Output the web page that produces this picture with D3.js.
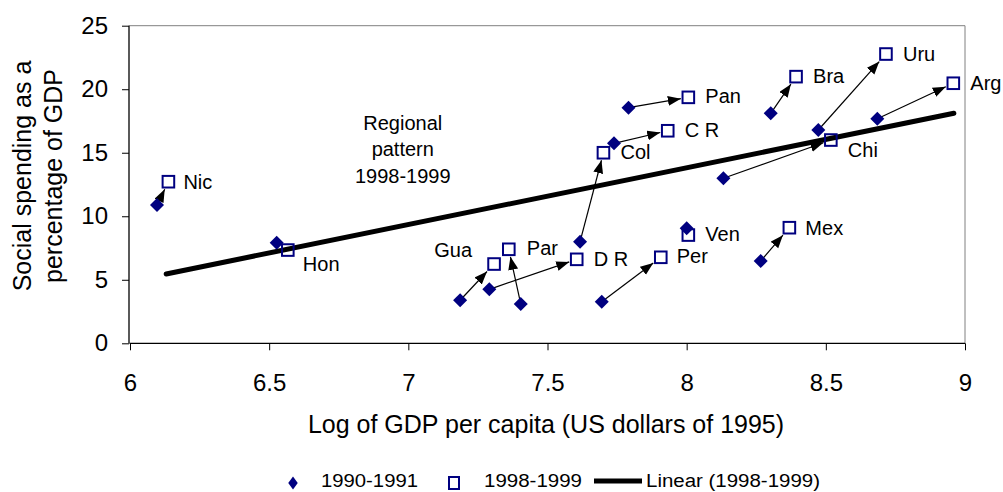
<!DOCTYPE html>
<html>
<head>
<meta charset="utf-8">
<script src="https://cdn.jsdelivr.net/npm/d3@7"></script>
<style>
  body { margin: 0; background: #fff; }
  svg { font-family: "Liberation Sans", Arial, sans-serif; }
</style>
</head>
<body>
<svg width="1003" height="492"></svg>
<script>
// values
var countries = ["Nic", "Hon", "Gua", "Par", "D R", "Col", "C R", "Pan", "Per", "Ven", "Mex", "Chi", "Bra", "Uru", "Arg"];
var gdp9091   = [6.097, 6.527, 7.186, 7.404, 7.291, 7.617, 7.739, 7.791, 7.695, 8.000, 8.266, 8.132, 8.302, 8.473, 8.685];
var spend9091 = [10.89, 7.92, 3.39, 3.09, 4.25, 8.00, 15.74, 18.55, 3.27, 9.05, 6.48, 12.99, 18.10, 16.79, 17.68];
var gdp9899   = [6.138, 6.567, 7.308, 7.361, 7.605, 7.701, 7.932, 8.006, 7.907, 8.006, 8.369, 8.518, 8.393, 8.716, 8.958];
var spend9899 = [12.72, 7.34, 6.24, 7.40, 6.61, 15.00, 16.73, 19.36, 6.77, 8.52, 9.10, 16.00, 20.99, 22.77, 20.47];
var showArrow = [true, false, true, true, true, true, true, true, true, false, true, true, true, true, true];
var trendX = [6.13, 8.96],
    trendY = [5.46, 18.11];
var xTicks = [6, 6.5, 7, 7.5, 8, 8.5, 9],
    yTicks = [0, 5, 10, 15, 20, 25];
var legendLabels = ["1990-1991", "1998-1999", "Linear (1998-1999)"];

// label placement next to each 1998-1999 square (px offsets)
var labelPos = {
    "Nic": [15, 0], "Hon": [15, 14], "Gua": [-22, -14, "end"], "Par": [18, -1],
    "D R": [17, 0], "Col": [17, -1], "C R": [17, -1], "Pan": [17, -1],
    "Per": [16, -1], "Ven": [17, -1], "Mex": [16, 0], "Chi": [17, 10],
    "Bra": [17, -1], "Uru": [17, 0], "Arg": [17, 0]
};

var navy = "#000080";

var svg = d3.select("svg"),
    margin = {left: 129, right: 38, top: 25.7, bottom: 148.7},
    width = svg.attr("width") - margin.left - margin.right,
    height = svg.attr("height") - margin.top - margin.bottom;

var g = svg.append("g")
    .attr("transform", `translate(${margin.left},${margin.top})`);

var xScale = d3.scaleLinear().domain([6, 9]).range([1, width]),
    yScale = d3.scaleLinear().domain([0, 25]).range([height, 0]);

// frame: gray top and right
g.append("line").attr("x1", 0).attr("x2", width).attr("y1", 0).attr("y2", 0)
    .attr("stroke", "#808080").attr("stroke-width", 1);
g.append("line").attr("x1", width).attr("x2", width).attr("y1", 0).attr("y2", height)
    .attr("stroke", "#808080").attr("stroke-width", 1);

var xAxis = g.append("g")
    .attr("transform", `translate(0,${height})`)
    .call(d3.axisBottom(xScale).tickValues(xTicks).tickSize(7).tickPadding(24)
        .tickFormat(d3.format("")));
var yAxis = g.append("g")
    .call(d3.axisLeft(yScale).tickValues(yTicks).tickSize(7).tickPadding(14));

[xAxis, yAxis].forEach(function(a) {
    a.select(".domain").attr("stroke", "#000").attr("stroke-width", 1.3);
    a.selectAll(".tick line").attr("stroke", "#000");
    a.selectAll("text").attr("font-family", "Liberation Sans, Arial, sans-serif")
        .attr("font-size", 24).attr("fill", "#000");
});
xAxis.select(".domain").attr("d", `M0.5,0H${width}`);
yAxis.select(".domain").attr("d", `M0,0V${height}`);

// axis titles
svg.append("text")
    .attr("x", 546).attr("y", 433)
    .attr("text-anchor", "middle")
    .attr("font-size", 25)
    .text("Log of GDP per capita (US dollars of 1995)");

var yTitle = svg.append("text")
    .attr("transform", "translate(0,176) rotate(-90)")
    .attr("text-anchor", "middle")
    .attr("font-size", 25);
yTitle.append("tspan").attr("x", 0).attr("y", 31).text("Social spending as a");
yTitle.append("tspan").attr("x", 0).attr("y", 62).text("percentage of GDP");

// regional pattern note
var note = g.append("text")
    .attr("text-anchor", "middle")
    .attr("font-size", 20);
["Regional", "pattern", "1998-1999"].forEach(function(t, i) {
    note.append("tspan")
        .attr("x", xScale(6.98))
        .attr("y", 130 - margin.top + i * 26.5)
        .text(t);
});

// trend line
var line = d3.line()
    .x(function(d) { return xScale(d[0]); })
    .y(function(d) { return yScale(d[1]); });
g.append("path")
    .datum(trendX.map(function(x, i) { return [x, trendY[i]]; }))
    .attr("d", line)
    .attr("fill", "none")
    .attr("stroke", "#000")
    .attr("stroke-width", 5)
    .attr("stroke-linecap", "round");

// arrowhead
svg.append("defs").append("marker")
    .attr("id", "arrow")
    .attr("markerUnits", "userSpaceOnUse")
    .attr("markerWidth", 14).attr("markerHeight", 12)
    .attr("refX", 13).attr("refY", 5)
    .attr("orient", "auto")
    .append("path")
    .attr("d", "M0,0L13,5L0,10Z")
    .attr("fill", "#000");

var data = countries.map(function(c, i) {
    return {name: c, x0: gdp9091[i], y0: spend9091[i], x1: gdp9899[i], y1: spend9899[i], arrow: showArrow[i]};
});

g.selectAll(".arrow")
    .data(data.filter(function(d) { return d.arrow; }))
    .enter().append("line")
    .attr("class", "arrow")
    .each(function(d) {
        var ax = xScale(d.x0), ay = yScale(d.y0),
            bx = xScale(d.x1), by = yScale(d.y1),
            dx = bx - ax, dy = by - ay,
            len = Math.sqrt(dx * dx + dy * dy),
            ux = dx / len, uy = dy / len,
            cut = 7.5 / Math.max(Math.abs(ux), Math.abs(uy));
        d3.select(this)
            .attr("x1", ax).attr("y1", ay)
            .attr("x2", bx - ux * cut).attr("y2", by - uy * cut);
    })
    .attr("stroke", "#000")
    .attr("stroke-width", 1.2)
    .attr("marker-end", "url(#arrow)");

var diamond = d3.symbol().type(d3.symbolDiamond2).size(125);

g.selectAll(".dot")
    .data(data)
    .enter().append("path")
    .attr("class", "dot")
    .attr("d", diamond)
    .attr("transform", function(d) { return `translate(${xScale(d.x0)},${yScale(d.y0)})`; })
    .attr("fill", navy);

g.selectAll(".sq")
    .data(data)
    .enter().append("rect")
    .attr("class", "sq")
    .attr("x", function(d) { return xScale(d.x1) - 5.8; })
    .attr("y", function(d) { return yScale(d.y1) - 5.8; })
    .attr("width", 11.6).attr("height", 11.6)
    .attr("fill", "none")
    .attr("stroke", navy)
    .attr("stroke-width", 2);

g.selectAll(".lbl")
    .data(data)
    .enter().append("text")
    .attr("class", "lbl")
    .attr("x", function(d) { return xScale(d.x1) + labelPos[d.name][0]; })
    .attr("y", function(d) { return yScale(d.y1) + labelPos[d.name][1]; })
    .attr("dy", "0.35em")
    .attr("text-anchor", function(d) { return labelPos[d.name][2] || "start"; })
    .attr("font-size", 20)
    .text(function(d) { return d.name; });

// legend
var legend = svg.append("g").attr("font-size", 18);
legend.append("path")
    .attr("d", d3.symbol().type(d3.symbolDiamond2).size(90))
    .attr("transform", "translate(293,483) scale(0.8,1.1)")
    .attr("fill", navy);
legend.append("text").attr("x", 321).attr("y", 487)
    .attr("textLength", 97).attr("lengthAdjust", "spacingAndGlyphs").text(legendLabels[0]);
legend.append("rect")
    .attr("x", 449).attr("y", 477).attr("width", 10).attr("height", 12)
    .attr("fill", "none").attr("stroke", navy).attr("stroke-width", 2);
legend.append("text").attr("x", 484).attr("y", 487)
    .attr("textLength", 98).attr("lengthAdjust", "spacingAndGlyphs").text(legendLabels[1]);
legend.append("line")
    .attr("x1", 594).attr("x2", 642).attr("y1", 481).attr("y2", 481)
    .attr("stroke", "#000").attr("stroke-width", 5);
legend.append("text").attr("x", 646).attr("y", 487)
    .attr("textLength", 174).attr("lengthAdjust", "spacingAndGlyphs").text(legendLabels[2]);
</script>
</body>
</html>
